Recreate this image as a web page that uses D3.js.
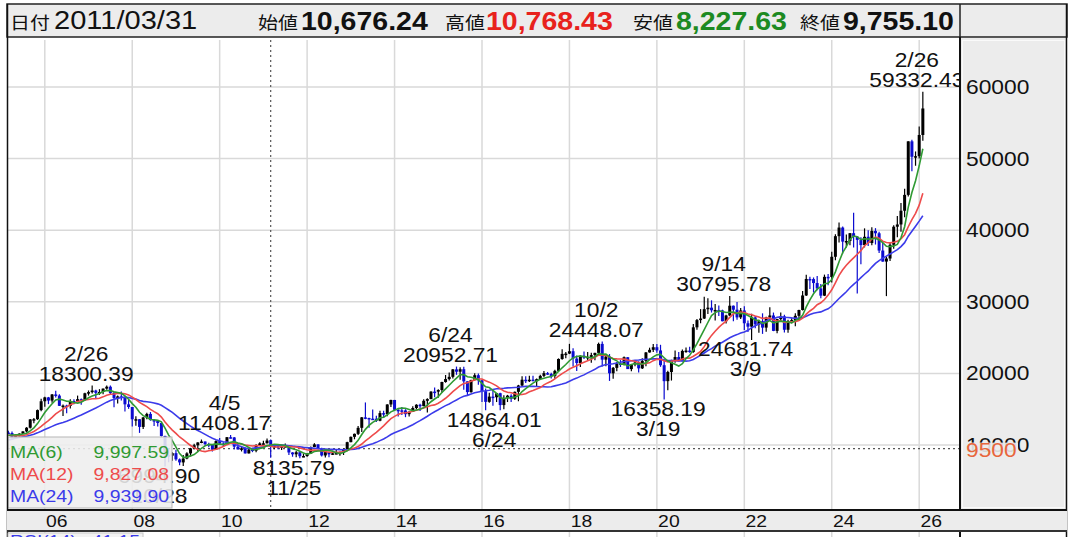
<!DOCTYPE html>
<html><head><meta charset="utf-8">
<script src="https://cdn.jsdelivr.net/npm/d3@7"></script>
<style>body{margin:0;background:#fff;} svg{display:block;}</style>
</head><body><svg id="c" width="1070" height="537"></svg>
<script>
// ---------------- DATA (monthly bars, first bar = 2005-03) ----------------
const firstMonth = "2005-03";
const open = [
  11741,11669,11008,11276,11584,11899,12413,13574,13607,14872,
  16111,16650,16205,17059,16906,15467,15505,15457,16140,16128,16399,16274,
  17226,17383,17604,17288,17400,17876,18138,17248,16569,16786,16737,15680,
  15308,13592,13603,12525,13850,14338,13481,13376,13072,11260,8577,8512,
  8860,7994,7568,8109,8828,9523,9958,10357,10492,10133,10034,9345,
  10546,10198,10126,11089,11057,9768,9382,9537,8824,9369,9202,9937,
  10228,10237,10676.24,9755,9849,9693,9816,9833,8955,8700,8988,8434,
  8455,8802,9723,10083,9520,8542,9006,8695,8839,8870,8928,9446,
  10395,11138,11559,12397,13860,13774,13677,13668,13388,14455,14327,15662,
  16291,14914,14841,14828,14304,14632,15162,15621,15425,16174,16414,17459,
  17451,17674,18798,19207,19520,20563,20236,20585,18890,17388,19083,19747,
  19034,17518,16027,16759,16666,17235,15576,16569,16887,16450,17425,18308,
  19114,19041,19119,18909,19197,19651,20033,19925,19646,20356,22012,22725,
  22765,23098,22068,21454,22468,22202,22305,22554,22865,24120,21920,22351,
  20015,20773,21385,21206,22259,20601,21276,21522,20704,21756,22927,23294,
  23657,23205,21143,18917,20194,21878,22288,21710,23140,23185,22977,26434,
  27444,27663,28966,29179,28813,28860,28792,27284,28090,29453,28893,27822,
  28792,27002,26527,27821,26848,27280,26393,27802,28092,25937,27587,27969,
  26095,27327,27446,28041,28856,30888,33189,33172,32619,31858,30859,33487,
  33464,36287,39166,40369,38406,38488,39583,39102,38648,37920,39081,38208,
  39895,39572,37156,35618,36045,37965,40487,40800,42718,44933,52411,50254,
  50339,53300
];
const high = [
  11975,11874,11276,11630,11911,12500,13617,13769,14956,16445,
  16750,16715,17140,17563,17102,15650,15626,16400,16400,16900,16500,17300,
  17617,18300.39,17700,17800,17900,18297,18295,17400,16900,17488,16750,16300,
  15310,14031,13635,13895,14489,14601,13600,13400,13100,11300,9500,9000,
  9325,8100,8600,9000,9600,10170,10400,10767,10500,10300,10100,10650,
  10982,10400,11100,11408.17,11100,10200,9800,9700,9700,9600,10100,10400,
  10600,10891,10768.43,9900,10100,9900,10200,9900,9000,9152,9000,8800,
  8900,9800,10255,10100,9600,9050,9100,9200,9300,9100,9500,10440,
  11200,11600,12650,13900,15942,13800,14950,14100,14800,14800,15700,16320,
  16300,15000,15300,15000,14700,15400,15700,15750,16400,16533,17520,18030,
  17800,18850,19778,20133,20600,20952.71,20850,20946,18900,19100,20012,20000,
  19100,17905,17291,17613,17251,17300,16938,17000,17100,17470,18400,19592,
  19615,19668,19656,19300,19800,20318,20200,20100,20500,22100,23382,23000,
  24129,23500,22500,22500,23050,23000,22900,22900,24300,24448.07,22700,22700,
  20900,21600,21860,22362,22300,21300,21823,21700,22100,23000,23592,24091,
  24115,23995,21719,20365,21900,23185,23000,23340,23600,23725,26900,27600,
  28979,30714,30485,30208,29685,29500,28900,28200,30795.78,29500,29960,29121,
  29388,27400,28338,28000,27500,28389,27900,29222,28500,27600,28500,28200,
  27500,27700,28400,28900,31500,33772,33500,33400,33600,32500,33800,33900,
  36984,39426,41087,40500,39400,39600,42426,39200,39000,40257,40000,40398,
  40288,39800,38200,36300,38200,40700,42000,43800,45800,52411,52636,51000,
  54500,59332.43
];
const low = [
  11500,10770,10825,11135,11540,11750,12300,13050,13500,14700,
  15341,15711,15900,16650,15450,14045,14435,15100,15700,16000,15615,16200,
  16900,17200,16532,17000,17100,17700,17000,15262,15800,16200,14670,15050,
  12573,12690,11691,12250,13600,13400,12671,12600,11200,6994.90,7600,7800,
  7800,7170,7054.98,8000,8400,9400,9050,10250,9900,9700,9081,9300,
  10100,9868,10100,10900,9400,9380,9100,8800,8796,9000,9000,9900,
  10100,10200,8227.63,9400,9400,9300,9700,8600,8359,8300,8135.79,8300,
  8350,8800,9700,9400,8400,8238,8300,8600,8700,8500,8600,9400,
  10380,10800,11400,11800,13600,12415,13600,13200,13300,13800,14000,15300,
  14800,13995,14200,13885,13964,14600,15000,14753,15400,14529,16400,16672,
  16592,17300,18700,19000,19300,19800,19115,17714,16901,17300,19000,18400,
  16017,14865,15900,15471,16000,14864.01,15000,16000,16000,16300,16111,18200,
  18650,18800,18900,18224,19100,19500,19800,19280,19250,20300,21900,22119,
  22700,20950,20347,20900,22000,21800,21500,21850,22500,20971,21000,18949,
  19241,20300,20900,21100,20600,20289,21000,20110,20600,21000,22900,23000,
  22900,20916,16358.19,17646,19000,21500,21700,21700,22900,22900,22900,26100,
  27000,27600,28300,28500,27385,28000,27272,26954,28000,27293,27500,27600,
  26044,25775,24681.74,26300,25688,25520,25800,27600,25900,25621,27400,25700,
  25661,27000,26600,27400,28800,30800,31800,31300,31600,30500,30800,32300,
  32700,35800,38270,36733,37600,37900,37600,31156,35247,37600,37800,37900,
  38000,36800,35600,30792,35700,37400,39000,39800,41800,44700,48235,49000,
  50000,52500
];
const close = [
  11669,11008,11276,11584,11899,12413,13574,13607,14872,16111,
  16650,16205,17059,16906,15467,15505,15457,16140,16128,16399,16274,17226,
  17383,17604,17288,17400,17876,18138,17248,16569,16786,16737,15680,15308,
  13592,13603,12525,13850,14338,13481,13376,13072,11260,8577,8512,8860,
  7994,7568,8109,8828,9523,9958,10357,10492,10133,10034,9345,10546,
  10198,10126,11089,11057,9768,9382,9537,8824,9369,9202,9937,10228,
  10237,10624,9755.10,9849,9693,9816,9833,8955,8700,8988,8434,8455,
  8802,9723,10083,9520,8542,9006,8695,8839,8870,8928,9446,10395,
  11138,11559,12397,13860,13774,13677,13668,13388,14455,14327,15662,16291,
  14914,14841,14828,14304,14632,15162,15621,15425,16174,16414,17459,17451,
  17674,18798,19207,19520,20563,20236,20585,18890,17388,19083,19747,19034,
  17518,16027,16759,16666,17235,15576,16569,16887,16450,17425,18308,19114,
  19041,19119,18909,19197,19651,20033,19925,19646,20356,22012,22725,22765,
  23098,22068,21454,22468,22202,22305,22554,22865,24120,21920,22351,20015,
  20773,21385,21206,22259,20601,21276,21522,20704,21756,22927,23294,23657,
  23205,21143,18917,20194,21878,22288,21710,23140,23185,22977,26434,27444,
  27663,28966,29179,28813,28860,28792,27284,28090,29453,28893,27822,28792,
  27002,26527,27821,26848,27280,26393,27802,28092,25937,27587,27969,26095,
  27327,27446,28041,28856,30888,33189,33172,32619,31858,30859,33487,33464,
  36287,39166,40369,38406,38488,39583,39102,38648,37920,39081,38208,39895,
  39572,37156,35618,36045,37965,40487,40800,42718,44933,52411,50254,50339,
  53300,57000
];
// closes before the first bar (2003-04 .. 2005-02), used only for moving averages
const leadClose = [7831,8425,9083,9563,10344,10219,10560,10101,10677,
  10784,11041,11715,11762,11236,11859,11326,11082,10824,10771,11073,11489,
  11388,11741];
const maPeriods = [6, 12, 24];
const maLabels = ["MA(6)", "MA(12)", "MA(24)"];
const maLegendValues = ["9,997.59", "9,827.08", "9,939.90"];
const yTicks = [10000, 20000, 30000, 40000, 50000, 60000];
const xTickYears = [2006, 2008, 2010, 2012, 2014, 2016, 2018, 2020, 2022, 2024, 2026];
const xTickLabels = ["06","08","10","12","14","16","18","20","22","24","26"];
const annMonth = ["2007-02","2010-04","2008-10","2011-11","2015-06","2016-06","2018-10","2020-03","2021-09","2022-03","2026-02"];
const annDate  = ["2/26","4/5","10/28","11/25","6/24","6/24","10/2","3/19","9/14","3/9","2/26"];
const annValue = [18300.39,11408.17,6994.90,8135.79,20952.71,14864.01,24448.07,16358.19,30795.78,24681.74,59332.43];
const annSide  = ["high","high","low","low","high","low","high","low","high","low","high"];
const headerDate = "2011/03/31";
const headerItems = [["始値","10,676.24"],["高値","10,768.43"],["安値","8,227.63"],["終値","9,755.10"]];
const crossMonth = "2011-03";
const crossValue = 9500;
const rsiLabel = ["RSI(14)", "41.15"];

// ---------------- LAYOUT ----------------
const FONT = "'Liberation Sans', Arial, 'Noto Sans CJK JP', sans-serif";
const SX = 1.14;
const P = {l: 8, r: 960, t: 40, b: 510};
const svg = d3.select("#c");
const monthIdx = s => { const [yy, m] = s.split("-").map(Number); return (yy - 2005) * 12 + (m - 1); };
const i0 = monthIdx(firstMonth);
const x = d3.scaleLinear().domain([1.9, 263.2]).range([P.l, P.r]);
const y = d3.scaleLinear().domain([10000, 60000]).range([445, 87]);

function txt(g, px, py, s, o = {}) {
  return g.append("text")
    .attr("transform", `translate(${px},${py}) scale(${o.sx || SX},1)`)
    .attr("text-anchor", o.anchor || "start")
    .attr("font-family", o.family || FONT)
    .attr("font-size", o.size || 20)
    .attr("font-weight", o.weight || "normal")
    .attr("fill", o.fill || "#111")
    .text(s);
}

// background
svg.append("rect").attr("width", 1070).attr("height", 537).attr("fill", "#fff");

// header
svg.append("rect").attr("x", 7).attr("y", 4).attr("width", 1060).attr("height", 33)
  .attr("fill", "#ececec").attr("stroke", "#222").attr("stroke-width", 1.5);
svg.append("line").attr("x1", 960).attr("x2", 960).attr("y1", 4).attr("y2", 37).attr("stroke", "#222").attr("stroke-width", 1.5);
txt(svg, 10, 29, "日付", {size: 17.5});
txt(svg, 54, 29, headerDate, {size: 25.5});
const hx = [[258, 301], [445, 486], [633, 676], [800, 843]];
const hColors = ["#111", "#e8221c", "#1d8a22", "#111"];
headerItems.forEach((h, k) => {
  txt(svg, hx[k][0], 29, h[0], {size: 17.5});
  txt(svg, hx[k][1], 30, h[1], {size: 25, weight: "bold", fill: hColors[k]});
});

// right axis panel
svg.append("rect").attr("x", 960).attr("y", 38).attr("width", 107).attr("height", 472).attr("fill", "#ececec");
svg.append("rect").attr("x", 962.5).attr("y", 40.5).attr("width", 102).attr("height", 467)
  .attr("fill", "none").attr("stroke", "#fafafa").attr("stroke-width", 1);

// plot area
const defs = svg.append("defs");
defs.append("clipPath").attr("id", "clip").append("rect")
  .attr("x", P.l).attr("y", P.t).attr("width", P.r - P.l).attr("height", P.b - P.t);
const plot = svg.append("g").attr("clip-path", "url(#clip)");
plot.append("rect").attr("x", P.l).attr("y", P.t).attr("width", P.r - P.l).attr("height", P.b - P.t).attr("fill", "#fff");

// grid
plot.selectAll(".hg").data(yTicks).join("line")
  .attr("x1", P.l).attr("x2", P.r).attr("y1", d => y(d)).attr("y2", d => y(d))
  .attr("stroke", "#d9d9d9").attr("stroke-width", 1.5);
plot.selectAll(".vg").data(xTickYears).join("line")
  .attr("x1", d => x((d - 2005) * 12)).attr("x2", d => x((d - 2005) * 12))
  .attr("y1", P.t).attr("y2", P.b).attr("stroke", "#d9d9d9").attr("stroke-width", 1.5);

// crosshair
plot.append("line").attr("x1", P.l).attr("x2", P.r).attr("y1", y(crossValue)).attr("y2", y(crossValue))
  .attr("stroke", "#555").attr("stroke-width", 1.2).attr("stroke-dasharray", "2,3");
plot.append("line").attr("x1", x(monthIdx(crossMonth))).attr("x2", x(monthIdx(crossMonth)))
  .attr("y1", P.t).attr("y2", P.b)
  .attr("stroke", "#555").attr("stroke-width", 1.2).attr("stroke-dasharray", "2,3");

// candles
const bars = close.map((c, i) => ({i: i0 + i, o: open[i], h: high[i], l: low[i], c}));
const UP = "#000", DN = "#0b0bd0";
const cg = plot.append("g");
cg.selectAll("line").data(bars).join("line")
  .attr("x1", d => x(d.i)).attr("x2", d => x(d.i))
  .attr("y1", d => y(d.h)).attr("y2", d => y(d.l))
  .attr("stroke", d => d.c >= d.o ? UP : DN).attr("stroke-width", 1.2);
const BW = 3;
cg.selectAll("rect").data(bars).join("rect")
  .attr("x", d => x(d.i) - BW / 2).attr("width", BW)
  .attr("y", d => Math.min(y(d.o), y(d.c)))
  .attr("height", d => Math.max(1.5, Math.abs(y(d.o) - y(d.c))))
  .attr("fill", d => d.c >= d.o ? UP : DN);

// moving averages
const allClose = leadClose.concat(close);
const maColors = ["#2f9a33", "#ee4b4b", "#3b3bea"];
function ma(n) {
  return close.map((c, i) => {
    const j = i + leadClose.length;
    return {i: i0 + i, v: d3.mean(allClose.slice(j - n + 1, j + 1))};
  });
}
[2, 1, 0].forEach(k => {
  plot.append("path").datum(ma(maPeriods[k]))
    .attr("fill", "none").attr("stroke", maColors[k]).attr("stroke-width", 1.6)
    .attr("d", d3.line().x(d => x(d.i)).y(d => y(d.v)));
});

// annotations
const fmt = d3.format(".2f");
annMonth.forEach((m, k) => {
  const cx = x(monthIdx(m)) - 6;
  const yy = y(annValue[k]);
  if (annSide[k] === "high") {
    txt(plot, cx, yy - 5, fmt(annValue[k]), {anchor: "middle", size: 20});
    txt(plot, cx, yy - 25, annDate[k], {anchor: "middle", size: 20});
  } else {
    txt(plot, cx, yy + 16.5, fmt(annValue[k]), {anchor: "middle", size: 20});
    txt(plot, cx, yy + 36.5, annDate[k], {anchor: "middle", size: 20});
  }
});

// legend
const lg = svg.append("g");
lg.append("rect").attr("x", 8).attr("y", 437).attr("width", 164).attr("height", 71)
  .attr("fill", "#eeeeee").attr("fill-opacity", 0.88).attr("stroke", "#b5b5b5");
maLabels.forEach((lab, k) => {
  const by = 458 + k * 22;
  txt(lg, 10, by, lab, {size: 17, fill: maColors[k]});
  txt(lg, 169, by, maLegendValues[k], {size: 17, fill: maColors[k], anchor: "end"});
});

// frame lines
svg.append("line").attr("x1", P.r).attr("x2", P.r).attr("y1", 37).attr("y2", 537).attr("stroke", "#111").attr("stroke-width", 2);
svg.append("line").attr("x1", 7.5).attr("x2", 7.5).attr("y1", 4).attr("y2", 537).attr("stroke", "#111").attr("stroke-width", 1.5);
svg.append("line").attr("x1", 1066.5).attr("x2", 1066.5).attr("y1", 4).attr("y2", 537).attr("stroke", "#111").attr("stroke-width", 1.5);

// y axis labels
yTicks.forEach(t => txt(svg, 966, y(t) + 7, String(t), {size: 20}));
svg.append("rect").attr("x", 964).attr("y", y(crossValue) - 6).attr("width", 54).attr("height", 17)
  .attr("fill", "#ececec").attr("fill-opacity", 0.9);
txt(svg, 966, y(crossValue) + 8, String(crossValue), {size: 20, fill: "#e8663c"});

// x axis band
svg.append("rect").attr("x", 7).attr("y", 510).attr("width", 1060).attr("height", 21).attr("fill", "#ececec");
svg.append("line").attr("x1", 7).attr("x2", 1067).attr("y1", 510).attr("y2", 510).attr("stroke", "#111").attr("stroke-width", 2);
svg.append("line").attr("x1", 7).attr("x2", 1067).attr("y1", 531).attr("y2", 531).attr("stroke", "#333").attr("stroke-width", 2);
xTickYears.forEach((yr, k) => txt(svg, x((yr - 2005) * 12) + 12, 527, xTickLabels[k], {size: 17, anchor: "middle"}));

// lower (RSI) panel top strip
svg.selectAll(".vg2").data(xTickYears).join("line")
  .attr("x1", d => x((d - 2005) * 12)).attr("x2", d => x((d - 2005) * 12))
  .attr("y1", 532).attr("y2", 537).attr("stroke", "#d9d9d9").attr("stroke-width", 1.5);
svg.append("rect").attr("x", 8).attr("y", 533).attr("width", 135).attr("height", 10)
  .attr("fill", "#f2f2f2").attr("stroke", "#c8c8c8");
txt(svg, 10, 547, rsiLabel[0], {size: 17, fill: "#3b3bea"});
txt(svg, 140, 547, rsiLabel[1], {size: 17, fill: "#3b3bea", anchor: "end"});
</script>
</body></html>
